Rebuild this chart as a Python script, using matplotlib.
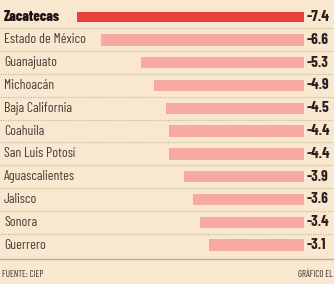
import numpy as np
import matplotlib.pyplot as plt

estados = ["Zacatecas", "Estado de México", "Guanajuato", "Michoacán", "Baja California",
           "Coahuila", "San Luis Potosí", "Aguascalientes", "Jalisco", "Sonora", "Guerrero"]
valores = [-7.4, -6.6, -5.3, -4.9, -4.5, -4.4, -4.4, -3.9, -3.6, -3.4, -3.1]
fuente = "FUENTE: CIEP"
credito = "GRÁFICO EL UNIVERSAL"

fam = ["Barlow Condensed", "DejaVu Sans"]
bg = "#fae7d0"


def plot_chart():
    fig = plt.figure(figsize=(3.34, 2.84), dpi=100, facecolor=bg)
    ax = fig.add_axes([0, 0, 1, 1])
    ax.set_facecolor(bg)
    ypos = np.arange(len(estados))
    colors = ["#e8413b"] + ["#f6aaa1"] * (len(estados) - 1)
    heights = [0.44] + [0.5] * (len(estados) - 1)
    ax.barh(ypos, valores, height=heights, color=colors, zorder=2)
    for i in range(len(estados)):
        bold = i == 0
        ax.text(-9.77, ypos[i], estados[i], va="center", ha="left", family=fam,
                fontsize=10.5 if bold else 10, fontweight="heavy" if bold else "normal",
                color="#1c1414" if bold else "#4a3d38")
        ax.text(0.1, ypos[i], f"{valores[i]:.1f}", va="center", ha="left", family=fam,
                fontsize=11.5 if bold else 11, fontweight="bold", color="#2a2020")
        if i < len(estados) - 1:
            ax.axhline(ypos[i] + 0.5, color="#bfc0a0", lw=0.9, ls=(0, (1, 1)), zorder=1)
    ax.axhline(10.62, color="#b9ab98", lw=1.0)
    ax.text(-9.85, 11.3, fuente, va="center", ha="left", family=fam, fontsize=6.5,
            color="#3a2e2a")
    ax.text(-0.2, 11.3, credito, va="center", ha="left", family=fam, fontsize=6.5,
            color="#3a2e2a")
    ax.set_xlim(-9.9, 0.977)
    ax.set_ylim(11.71, -0.746)
    ax.axis("off")
    fig.savefig("out.png", dpi=100, facecolor=bg)


if __name__ == '__main__':
    plot_chart()
